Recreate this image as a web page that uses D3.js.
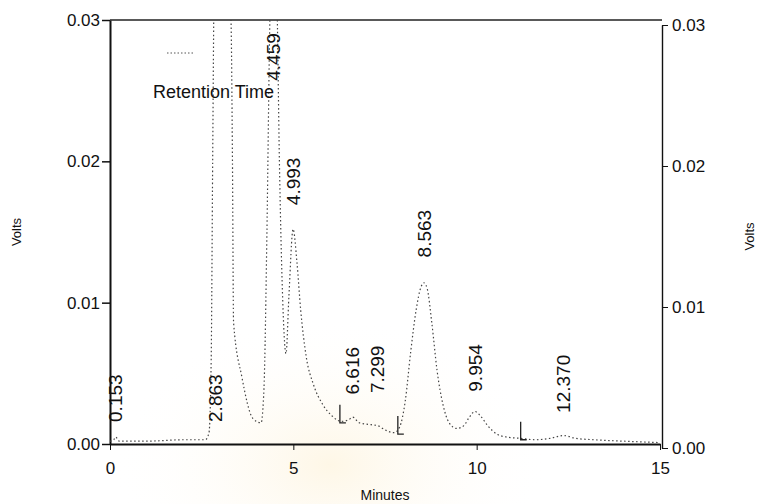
<!DOCTYPE html>
<html>
<head>
<meta charset="utf-8">
<script src="https://cdn.jsdelivr.net/npm/d3@7"></script>
<style>
  body { margin: 0; background: #fff; }
  svg { display: block; font-family: "Liberation Sans", Arial, sans-serif; }
  .axis path, .axis line { stroke: #111; }
  .axis text { fill: #111; }
</style>
</head>
<body>
<div id="chart"></div>
<script>
// chromatogram trace, [minutes, volts]
const traceMinutes = [0, 0.1, 0.153, 0.25, 1.0, 2.0, 2.6, 2.7, 2.76, 2.8, 2.84, 2.863, 3.0, 3.2, 3.3, 3.34, 3.37, 3.6, 3.9, 4.12,
  4.2, 4.28, 4.36, 4.459, 4.55, 4.62, 4.7, 4.8, 4.88, 4.993, 5.1, 5.2, 5.35, 5.55, 5.8, 6.05, 6.3, 6.5, 6.616, 6.8,
  7.0, 7.299, 7.5, 7.75, 7.9, 8.05, 8.2, 8.35, 8.48, 8.563, 8.65, 8.78, 8.92, 9.08, 9.25, 9.45, 9.65, 9.8, 9.954, 10.1,
  10.3, 10.55, 10.8, 11.2, 11.6, 12.0, 12.37, 12.7, 13.2, 14.0, 15.0];
const traceVolts = [0.0002, 0.0003, 0.0005, 0.0002, 0.0002, 0.0003, 0.0003, 0.0008, 0.006, 0.02, 0.033, 0.036, 0.036, 0.034, 0.030, 0.020, 0.0086, 0.0047, 0.0018, 0.0015,
  0.004, 0.015, 0.030, 0.037, 0.032, 0.020, 0.011, 0.0064, 0.0105, 0.0152, 0.0128, 0.0095, 0.0062, 0.0042, 0.0028, 0.002, 0.0016, 0.0017, 0.0019, 0.0015,
  0.0014, 0.0013, 0.001, 0.0008, 0.0012, 0.003, 0.0065, 0.0095, 0.0111, 0.0114, 0.011, 0.0085, 0.0052, 0.0028, 0.0015, 0.0011, 0.0013, 0.0019, 0.0023, 0.002,
  0.0013, 0.0007, 0.0005, 0.0004, 0.0003, 0.0004, 0.0006, 0.0004, 0.0003, 0.0002, 0.0001];

// retention time labels and the level (volts) where each label starts
const peakTimes = [0.153, 2.863, 4.459, 4.993, 6.616, 7.299, 8.563, 9.954, 12.370];
const peakLabels = ["0.153", "2.863", "4.459", "4.993", "6.616", "7.299", "8.563", "9.954", "12.370"];
const labelVolts = [0.00156, 0.00156, 0.0257, 0.0169, 0.0035, 0.0036, 0.0132, 0.0037, 0.0022];

// baseline event marks
const markTimes = [6.27, 7.85, 11.2];
const markVolts = [0.0015, 0.0007, 0.0003];

const xTicks = [0, 5, 10, 15];
const yTicks = [0, 0.01, 0.02, 0.03];

const W = 762, H = 504;
const svg = d3.select("#chart").append("svg")
  .attr("width", W)
  .attr("height", H);

const x = d3.scaleLinear().domain([0, 15]).range([110, 660]);
const y = d3.scaleLinear().domain([0, 0.03]).range([444, 20]);
// right axis is a touch lower on the scanned page
const yR = d3.scaleLinear().domain([0, 0.03]).range([448, 25]);

// faint watermark glow
const defs = svg.append("defs");
const grad = defs.append("radialGradient").attr("id", "wm");
grad.append("stop").attr("offset", "0%").attr("stop-color", "#fdf0d2").attr("stop-opacity", 0.55);
grad.append("stop").attr("offset", "100%").attr("stop-color", "#fff").attr("stop-opacity", 0);
svg.append("ellipse")
  .attr("cx", 330).attr("cy", 465)
  .attr("rx", 220).attr("ry", 150)
  .attr("fill", "url(#wm)");

defs.append("clipPath").attr("id", "plot")
  .append("rect")
  .attr("x", x(0)).attr("y", y(0.03))
  .attr("width", x(15) - x(0)).attr("height", y(0) - y(0.03));

// top frame line
svg.append("line")
  .attr("x1", x(0)).attr("x2", x(15) + 2)
  .attr("y1", y(0.03)).attr("y2", y(0.03))
  .attr("stroke", "#222").attr("stroke-width", 1.6);

// axes
svg.append("g")
  .attr("class", "axis")
  .attr("transform", `translate(${x(0)},0)`)
  .call(d3.axisLeft(y).tickValues(yTicks).tickFormat(d3.format(".2f")).tickSize(8).tickPadding(2).tickSizeOuter(0))
  .call(g => g.select(".domain").attr("stroke-width", 2))
  .call(g => g.selectAll("line").attr("stroke-width", 1.5))
  .call(g => g.selectAll("text").attr("font-size", 17));

svg.append("g")
  .attr("class", "axis")
  .attr("transform", `translate(0,${y(0)})`)
  .call(d3.axisBottom(x).tickValues(xTicks).tickSize(6).tickPadding(12).tickSizeOuter(0))
  .call(g => g.select(".domain").attr("stroke-width", 1.8))
  .call(g => g.selectAll("text").attr("font-size", 17));

svg.append("g")
  .attr("class", "axis")
  .attr("transform", `translate(${x(15) + 2},0)`)
  .call(d3.axisRight(yR).tickValues(yTicks).tickFormat(d3.format(".2f")).tickSize(6).tickPadding(4).tickSizeOuter(0))
  .call(g => g.select(".domain").attr("stroke-width", 1.4).attr("stroke", "#333"))
  .call(g => g.selectAll("text").attr("font-size", 17));

// axis titles
svg.append("text")
  .attr("x", x(7.5)).attr("y", 500)
  .attr("text-anchor", "middle")
  .attr("font-size", 14)
  .attr("fill", "#111")
  .text("Minutes");

svg.append("text")
  .attr("transform", `translate(21,${(y(0) + y(0.03)) / 2}) rotate(-90)`)
  .attr("text-anchor", "middle")
  .attr("font-size", 13)
  .attr("fill", "#111")
  .text("Volts");

svg.append("text")
  .attr("transform", `translate(754,${(yR(0) + yR(0.03)) / 2}) rotate(-90)`)
  .attr("text-anchor", "middle")
  .attr("font-size", 13)
  .attr("fill", "#111")
  .text("Volts");

// trace
const trace = traceMinutes.map((m, i) => [m, traceVolts[i]]);
const line = d3.line()
  .x(d => x(d[0]))
  .y(d => y(d[1]))
  .curve(d3.curveMonotoneX);

svg.append("path")
  .datum(trace)
  .attr("clip-path", "url(#plot)")
  .attr("fill", "none")
  .attr("stroke", "#444")
  .attr("stroke-width", 1.2)
  .attr("stroke-dasharray", "1.5,2.5")
  .attr("d", line);

// baseline event marks
const lookup = d3.scaleLinear().domain(markTimes).range(markVolts);
svg.append("g").selectAll("path")
  .data(markTimes)
  .join("path")
  .attr("fill", "none")
  .attr("stroke", "#222")
  .attr("stroke-width", 1.3)
  .attr("d", d => {
    const px = x(d), py = y(lookup(d));
    return `M${px},${py - 18}V${py}h6`;
  });

// legend swatch and title
svg.append("line")
  .attr("x1", 167).attr("x2", 193)
  .attr("y1", 53).attr("y2", 53)
  .attr("stroke", "#555")
  .attr("stroke-width", 1)
  .attr("stroke-dasharray", "1.5,2");

svg.append("text")
  .attr("x", 153).attr("y", 98)
  .attr("font-size", 18)
  .attr("fill", "#111")
  .text("Retention Time");

// peak labels
svg.append("g").selectAll("text")
  .data(peakTimes)
  .join("text")
  .attr("transform", (d, i) => `translate(${x(d)},${y(labelVolts[i])}) rotate(-90)`)
  .attr("dy", "0.36em")
  .attr("font-size", 19)
  .attr("fill", "#111")
  .text((d, i) => peakLabels[i]);
</script>
</body>
</html>
